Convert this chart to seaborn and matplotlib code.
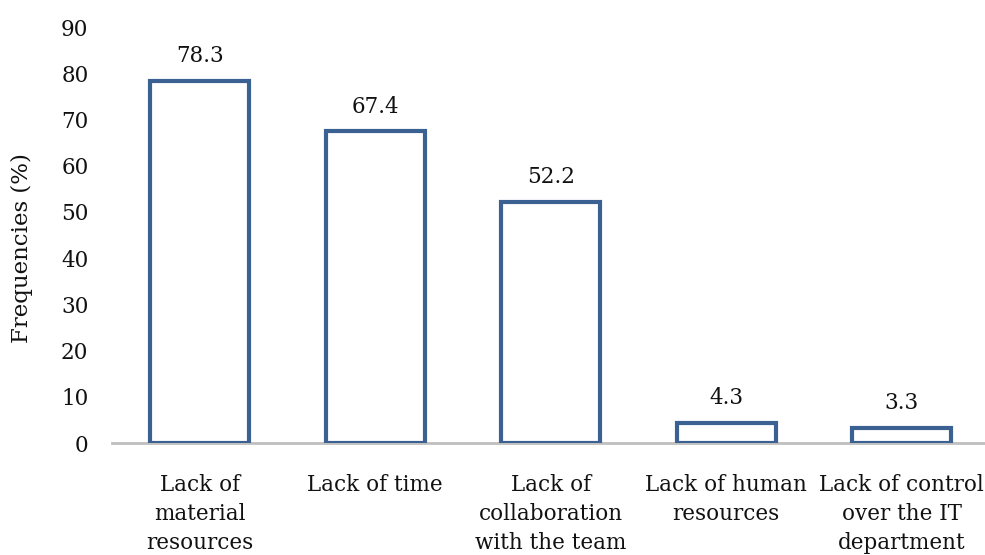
import matplotlib
matplotlib.use("Agg")
import matplotlib.pyplot as plt
import seaborn as sns
import pandas as pd

categories = [
    "Lack of\nmaterial\nresources",
    "Lack of time",
    "Lack of\ncollaboration\nwith the team",
    "Lack of human\nresources",
    "Lack of control\nover the IT\ndepartment",
]
values = [78.3, 67.4, 52.2, 4.3, 3.3]
yticks = [0, 10, 20, 30, 40, 50, 60, 70, 80, 90]

sns.set_theme(style="white")
plt.rcParams["font.family"] = ["DejaVu Serif"]

edge_blue = "#3B6193"
axis_gray = "#BFBFBF"
text_col = "#111111"

df = pd.DataFrame({"category": categories, "value": values})

fig = plt.figure(figsize=(9.85, 5.55), dpi=100)
ax = fig.add_axes([112 / 985, (555 - 443) / 555, 1 - 112 / 985, (443 - 27) / 555])

sns.barplot(data=df, x="category", y="value", color="white", edgecolor=edge_blue,
            linewidth=3, width=0.565, saturation=1, ax=ax)

for patch, v in zip(ax.patches, values):
    ax.text(patch.get_x() + patch.get_width() / 2, v + 3.0, f"{v:.1f}",
            ha="center", va="bottom", fontsize=15.5, color=text_col)

ax.set_ylim(0, 90)
ax.set_xlim(-0.5, 4.474)
ax.set_yticks(yticks)
ax.set_yticklabels([str(t) for t in yticks], fontsize=15.5, color=text_col)
ax.tick_params(axis="y", length=0, pad=17)
ax.tick_params(axis="x", length=0, pad=22, labelsize=15.5, labelcolor=text_col)
for lbl in ax.get_xticklabels():
    lbl.set_linespacing(1.42)

ax.set_xlabel("")
ax.set_ylabel("Frequencies (%)", fontsize=16.5, color=text_col)
# place the y label in axes coordinates, a little left of the tick labels
ax.yaxis.set_label_coords(-(112 - 33) / 873, (443 - 248) / 416)

for side in ["left", "right", "top"]:
    ax.spines[side].set_visible(False)
ax.spines["bottom"].set_color(axis_gray)
ax.spines["bottom"].set_linewidth(2)
ax.spines["bottom"].set_zorder(0)

fig.savefig("out.png", dpi=100, facecolor="white")
